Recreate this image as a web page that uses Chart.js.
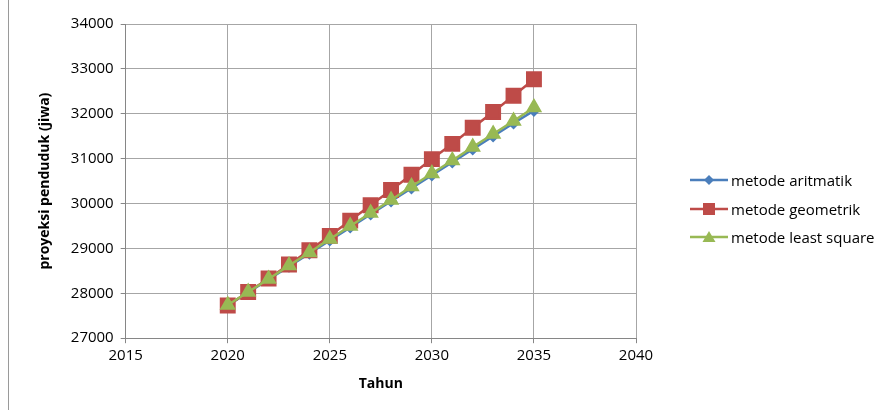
<!DOCTYPE html>
<html lang="id">
<head>
<meta charset="UTF-8">
<title>Proyeksi Penduduk</title>
<script src="https://cdn.jsdelivr.net/npm/chart.js"></script>
<style>
    body { margin: 0; padding: 0; background: #ffffff; }
    .wrap { position: relative; width: 883px; height: 410px; }
    .edge { position: absolute; left: 8px; top: 0; width: 1px; height: 410px; background: #9a9a9a; }
    #legend { position: absolute; left: 690px; top: 166px; font-family: 'Open Sans', sans-serif; font-size: 15px; color: #000; }
    #legend .item { display: flex; align-items: center; height: 28.5px; white-space: nowrap; }
    #legend canvas { margin-right: 3px; }
</style>
</head>
<body>
<div class="wrap">
    <canvas id="chart" width="883" height="410"></canvas>
    <div class="edge"></div>
    <div id="legend"></div>
</div>
<script>
// tahun proyeksi
const years = [2020, 2021, 2022, 2023, 2024, 2025, 2026, 2027, 2028, 2029, 2030, 2031, 2032, 2033, 2034, 2035];

// hasil proyeksi (jiwa)
const aritmatik = [27730, 28020, 28310, 28600, 28890, 29180, 29470, 29760, 30050, 30340, 30630, 30920, 31210, 31500, 31790, 32070];
const geometrik = [27730, 28030, 28330, 28640, 28960, 29280, 29620, 29960, 30300, 30640, 30990, 31330, 31690, 32040, 32400, 32770];
const leastSquare = [27740, 28030, 28320, 28620, 28910, 29210, 29500, 29790, 30080, 30380, 30670, 30960, 31260, 31550, 31840, 32140];

const xTicks = [2015, 2020, 2025, 2030, 2035, 2040];
const yTicks = [27000, 28000, 29000, 30000, 31000, 32000, 33000, 34000];

const toPoints = vals => vals.map((v, i) => ({ x: years[i], y: v }));

// legend icon: line with marker in the middle
function legendIcon(color, shape) {
    const c = document.createElement('canvas');
    c.width = 38; c.height = 14;
    const g = c.getContext('2d');
    g.strokeStyle = color; g.lineWidth = 2.5;
    g.beginPath(); g.moveTo(0, 7); g.lineTo(38, 7); g.stroke();
    g.fillStyle = color;
    g.beginPath();
    if (shape === 'rectRot') {
        g.moveTo(19, 2); g.lineTo(24, 7); g.lineTo(19, 12); g.lineTo(14, 7);
    } else if (shape === 'rect') {
        g.rect(13, 1, 12, 12);
    } else {
        g.moveTo(19, 1); g.lineTo(25.5, 12); g.lineTo(12.5, 12);
    }
    g.closePath(); g.fill();
    return c;
}

const blue = '#4a7ebb', red = '#be4b48', green = '#98b954';

const font = "'Open Sans', sans-serif";

const chart = new Chart(document.getElementById('chart'), {
    type: 'line',
    data: {
        datasets: [
            {
                label: 'metode aritmatik',
                data: toPoints(aritmatik),
                borderColor: blue, backgroundColor: blue,
                borderWidth: 2.5, pointStyle: 'rectRot', pointRadius: 4.5,
                order: 3
            },
            {
                label: 'metode geometrik',
                data: toPoints(geometrik),
                borderColor: red, backgroundColor: red,
                borderWidth: 2.5, pointStyle: 'rect', pointRadius: 9.5,
                order: 2
            },
            {
                label: 'metode least square',
                data: toPoints(leastSquare),
                borderColor: green, backgroundColor: green,
                borderWidth: 2.5, pointStyle: 'triangle', pointRadius: 7,
                order: 1
            }
        ]
    },
    options: {
        responsive: false,
        animation: false,
        layout: { padding: { top: 24, left: 33, right: 247, bottom: 14 } },
        plugins: {
            tooltip: { enabled: false },
            legend: { display: false }
        },
        scales: {
            x: {
                type: 'linear',
                min: 2015, max: 2040,
                afterBuildTicks: s => { s.ticks = xTicks.map(v => ({ value: v })); },
                ticks: { color: '#000', font: { family: font, size: 15 }, padding: 4, callback: v => String(v) },
                grid: { color: '#a6a6a6', tickLength: 5, tickColor: '#868686' },
                border: { color: '#868686' },
                title: { display: true, text: 'Tahun', color: '#000', font: { family: font, size: 14, weight: 'bold' }, padding: { top: 6 } }
            },
            y: {
                min: 27000, max: 34000,
                afterBuildTicks: s => { s.ticks = yTicks.map(v => ({ value: v })); },
                ticks: { color: '#000', font: { family: font, size: 15 }, padding: 7, callback: v => String(v) },
                grid: { color: '#a6a6a6', tickLength: 5, tickColor: '#868686' },
                border: { color: '#868686' },
                title: { display: true, text: 'proyeksi penduduk (jiwa)', color: '#000', font: { family: font, size: 14, weight: 'bold' }, padding: { bottom: 10 } }
            }
        }
    }
});

// legend in HTML, built from the datasets
const legend = document.getElementById('legend');
chart.data.datasets.forEach(ds => {
    const row = document.createElement('div');
    row.className = 'item';
    row.appendChild(legendIcon(ds.borderColor, ds.pointStyle));
    const span = document.createElement('span');
    span.textContent = ds.label;
    row.appendChild(span);
    legend.appendChild(row);
});
</script>
</body>
</html>
